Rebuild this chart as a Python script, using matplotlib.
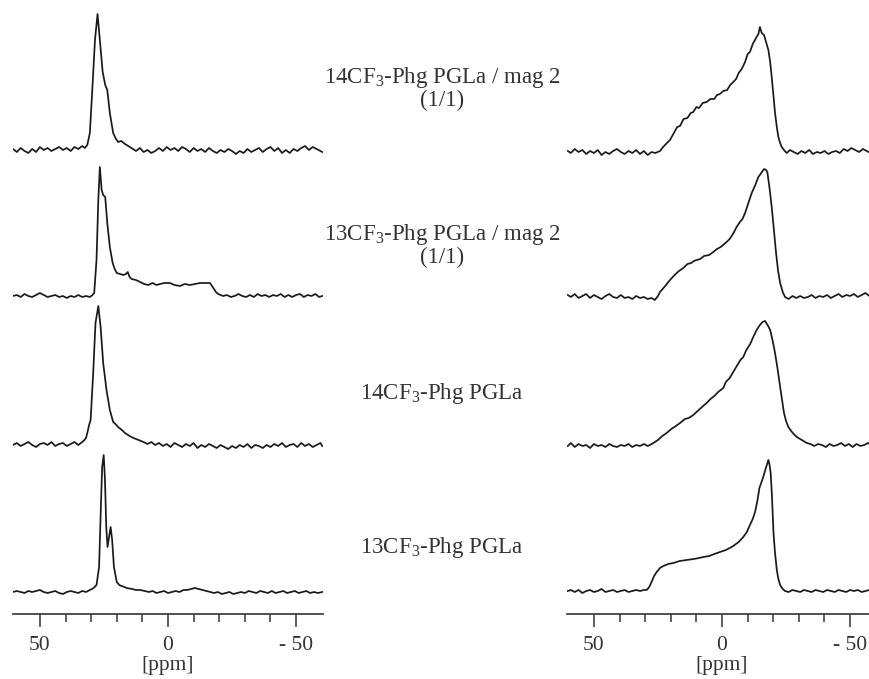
import numpy as np
from matplotlib import rcParams
from matplotlib import pyplot as plt

rcParams['font.family'] = 'Liberation Serif'
rcParams['mathtext.fontset'] = 'custom'
rcParams['mathtext.rm'] = 'Liberation Serif'
rcParams['mathtext.it'] = 'Liberation Serif:italic'

# 19F spectra, (ppm, intensity), intensity in pixel units above baseline
left_14_mag2 = [(60.5, 1), (59, -2), (57.5, 2), (56, -1), (54.5, -3), (53, 1), (51.5, -2), (50, 3), (48.5, 0), (47, 2),
                (45.5, -1), (44, 1), (42.5, 3), (41, 0), (39.5, 2), (38, -1), (36.5, 3), (35, 1), (33.5, 4), (32.5, 2),
                (31.5, 5), (30.5, 17), (29.4, 67), (28.5, 110), (27.5, 136), (26.6, 110), (25.5, 78), (24.5, 65),
                (23.7, 60), (22.7, 37), (21.4, 17), (20.5, 12), (19.5, 8), (18.2, 9), (16.8, 6), (15.5, 4), (13.7, 1),
                (12.5, -1), (11, 2), (9.5, -2), (8, 0), (6.5, -3), (5, -1), (3.5, 2), (2, -1), (0.5, 3), (-1, 0),
                (-2.5, 2), (-4, -1), (-5.5, 3), (-7, 1), (-8.5, -2), (-10, 2), (-11.5, -1), (-13, 1), (-14.5, -2),
                (-16, 2), (-17.5, -1), (-19, -3), (-20.5, 0), (-22, -2), (-23.5, 1), (-25, -1), (-26.5, -4), (-28, -1),
                (-29.5, -3), (-31, 1), (-32.5, -2), (-34, 0), (-35.5, 2), (-37, -2), (-38.5, 1), (-40, 3), (-41.5, -1),
                (-43, 2), (-44.5, -3), (-46, 0), (-47.5, -3), (-49, 1), (-50.5, -1), (-52, 2), (-53.5, 4), (-55, 0),
                (-56.5, 3), (-58, 1), (-59.5, -1), (-60.2, -2)]
left_13_mag2 = [(60.5, 0), (59, 1), (57.5, -1), (56, 2), (54.5, 0), (53, -1), (51.5, 1), (50, 3), (48.5, 1), (47, -1),
                (45.5, 0), (44, 1), (42.5, -1), (41, 0), (39.5, -2), (38, 0), (36.5, -1), (35, 1), (33.5, -1), (32, 0),
                (30.5, -1), (29.5, 1), (28.8, 3), (27.9, 36), (27.2, 96), (26.6, 129), (25.9, 106), (25.3, 101),
                (24.5, 99), (23.7, 73), (22.7, 49), (21.6, 33), (20.8, 27), (20.0, 23), (18.7, 22), (17.4, 21),
                (16.4, 22), (15.7, 24), (15.0, 19), (14.2, 17), (12.5, 16), (10.9, 14), (9.3, 12), (7.7, 11), (6, 13),
                (4.5, 11), (3.1, 12), (1.5, 13), (-0.8, 13), (-2.5, 11), (-4.7, 10), (-6.5, 12), (-8.6, 11),
                (-10.5, 12), (-12.5, 13), (-14.5, 13), (-16.4, 13), (-17.7, 8), (-18.7, 4), (-19.6, 2), (-21.5, 0),
                (-23, 1), (-24.5, -1), (-26, 0), (-27.5, 2), (-29, 0), (-30.5, -1), (-32, 1), (-33.5, -1), (-35, 2),
                (-36.5, 0), (-38, 1), (-39.5, -1), (-41, 1), (-42.5, 0), (-44, 2), (-45.5, -1), (-47, 1), (-48.5, -1),
                (-50, 1), (-51.5, 2), (-53, -1), (-54.5, 1), (-56, 0), (-57.5, 2), (-59, -1), (-60.2, 0)]
left_14 = [(60.5, 0), (59, 2), (57.5, -1), (56, 1), (54.5, 3), (53, 0), (51.5, -2), (50, 1), (48.5, 2), (47, 0),
           (45.5, 3), (44, -1), (42.5, 1), (41, 2), (39.5, -1), (38, 1), (36.5, 3), (35, 0), (34, 2), (33, 4), (32, 7),
           (31.5, 12), (30.8, 20), (30.2, 25), (29.2, 72), (28.3, 122), (27.2, 139), (26.3, 118), (25.3, 82),
           (24.0, 55), (22.7, 35), (21.4, 23), (20.5, 21), (19.5, 18), (18, 15), (16.8, 12), (15, 9), (13.5, 7),
           (11.5, 5), (9.6, 3), (8, 1), (6.5, 3), (5, 0), (3.5, 2), (2, -1), (0.5, 1), (-1, -2), (-2.5, 2), (-4, 0),
           (-5.5, -2), (-7, 1), (-8.5, -1), (-10, 2), (-11.5, -3), (-13, 0), (-14.5, -2), (-16, 1), (-17.5, -1),
           (-19, -3), (-20.5, 0), (-22, -2), (-23.5, -4), (-25, -1), (-26.5, -3), (-28, 0), (-29.5, -2), (-31, 1),
           (-32.5, -3), (-34, 0), (-35.5, -1), (-37, -3), (-38.5, 0), (-40, -2), (-41.5, 1), (-43, -1), (-44.5, 2),
           (-46, -2), (-47.5, 0), (-49, 1), (-50.5, -2), (-52, 2), (-53.5, -1), (-55, 1), (-56.5, -2), (-58, 0),
           (-59.5, 2), (-60.2, -1)]
left_13 = [(60.5, 0), (59, 1), (57.5, 0), (56, -1), (54.5, 1), (53, 0), (51.5, 1), (50, 2), (48.5, 0), (47, -1),
           (45.5, 0), (44, 1), (42.5, -1), (41, -2), (39.5, 0), (38, 1), (36.5, 0), (35, -1), (33.5, 1), (32, 0),
           (30.5, 2), (29, 4), (27.9, 7), (26.9, 25), (26.2, 85), (25.7, 125), (25.1, 137), (24.6, 112), (24.1, 65),
           (23.6, 45), (23.0, 55), (22.4, 65), (21.8, 52), (21.1, 25), (20.0, 10), (19, 7), (18.1, 6), (17, 5),
           (16.1, 4), (14, 3), (12.5, 2), (10.9, 2), (9, 1), (7.5, 0), (6, 1), (4.5, -1), (3, 0), (1.5, 1), (0, -1),
           (-1.5, 0), (-3, 1), (-4.5, 0), (-6, 2), (-7.5, 2), (-9, 3), (-10.5, 4), (-12, 3), (-13.5, 2), (-15, 1),
           (-16.5, 0), (-18, -1), (-19.5, 0), (-21, -2), (-22.5, -1), (-24, 0), (-25.5, -2), (-27, -1), (-28.5, 0),
           (-30, -1), (-31.5, 1), (-33, 0), (-34.5, -1), (-36, 1), (-37.5, 0), (-39, -1), (-40.5, 1), (-42, -1),
           (-43.5, 0), (-45, 1), (-46.5, -1), (-48, 0), (-49.5, 1), (-51, -1), (-52.5, 0), (-54, 1), (-55.5, -1),
           (-57, 0), (-58.5, -1), (-60.2, 0)]

right_14_mag2 = [(60.2, 1), (59, -1), (57.5, 3), (56, 0), (54.5, 2), (53, -2), (51.5, 1), (50, -1), (48.5, 2), (47, -3),
                 (45.5, 0), (44, -2), (42.5, 1), (41, 3), (39.5, 0), (38, -2), (36.5, 1), (35, -1), (33.5, 2), (32, -2),
                 (30.5, 1), (29, -3), (27.5, 0), (26, -1), (24.2, 1), (23, 5), (21.5, 9), (20.3, 12), (19, 18),
                 (17.5, 25), (16.4, 26), (15, 33), (13.5, 34), (12.2, 39), (11.2, 40), (10, 45), (9, 44), (7.5, 49),
                 (6.0, 50), (4.5, 53), (3, 53), (2, 57), (0.8, 58), (-0.5, 61), (-2, 62), (-3.2, 67), (-4.4, 70),
                 (-5.5, 73), (-6.5, 79), (-7.7, 83), (-9, 90), (-10, 98), (-10.9, 100), (-12, 108), (-13.5, 115),
                 (-14.2, 118), (-14.8, 125), (-15.5, 119), (-16.4, 117), (-17.2, 110), (-18.1, 102), (-18.8, 90),
                 (-19.4, 75), (-20.1, 56), (-20.7, 39), (-21.4, 25), (-22.0, 15), (-22.7, 9), (-23.3, 5), (-24.5, 1),
                 (-25.3, -1), (-26.5, 2), (-28, 0), (-29.5, -2), (-31, 1), (-32.5, -1), (-34, 2), (-35.5, -2), (-37, 0),
                 (-38.5, -1), (-40, 1), (-41.5, -2), (-43, 0), (-44.5, 1), (-46, -1), (-47.5, 3), (-49, 1), (-50.5, 4),
                 (-52, 2), (-53.5, 0), (-55, 3), (-56.5, 1), (-58, -1), (-59.5, 2)]
right_13_mag2 = [(60.2, 2), (59, 0), (57.5, 3), (56, -1), (54.5, 1), (53, 3), (51.5, -1), (50, 2), (48.5, 0), (47, -2),
                 (45.5, 1), (44, 3), (42.5, 0), (41, -1), (39.5, 2), (38, -1), (36.5, 0), (35, -2), (33.5, 1), (32, -1),
                 (30.5, 0), (29, -2), (27.5, -1), (26.2, -3), (25, 1), (24.2, 5), (22.5, 10), (20.3, 17), (18.5, 22),
                 (16.8, 26), (15.1, 29), (13.5, 33), (12, 34), (11, 36), (9.9, 37), (8.5, 38), (7, 41), (5, 42),
                 (3.4, 45), (2, 48), (0.5, 50), (-1.8, 55), (-3, 58), (-4.5, 64), (-5.7, 70), (-7, 75), (-8, 78),
                 (-9.0, 84), (-10.3, 94), (-11.6, 104), (-13, 112), (-14.2, 120), (-15.3, 124), (-16.4, 128),
                 (-17.2, 127), (-17.7, 125), (-18.6, 108), (-19.4, 90), (-20.3, 66), (-21.1, 44), (-21.9, 26),
                 (-22.7, 14), (-23.7, 5), (-24.6, 0), (-26, -2), (-27.5, 1), (-29, -1), (-30.5, 1), (-32, -1),
                 (-33.5, 0), (-35, 2), (-36.5, -1), (-38, 1), (-39.5, 0), (-41, 2), (-42.5, -1), (-44, 1), (-45.5, 3),
                 (-47, 0), (-48.5, 2), (-50, 1), (-51.5, 3), (-53, 0), (-54.5, 2), (-56, 4), (-57.5, 1), (-59, 3)]
right_14 = [(60.2, -1), (59, 2), (57.5, -2), (56, 1), (54.5, -1), (53, 0), (51.5, -3), (50, 1), (48.5, -1), (47, 0),
            (45.5, -2), (44, 1), (42.5, -1), (41, -2), (39.5, 0), (38, -1), (36.5, 1), (35, -2), (33.5, 0), (32, -1),
            (30.5, 1), (29, -1), (28.1, 0), (26.8, 2), (25, 5), (23.3, 9), (21.6, 12), (19.8, 16), (18, 19),
            (16.4, 22), (14.5, 26), (13, 27), (11.2, 30), (9.5, 34), (7.8, 38), (6.0, 42), (4.5, 46), (3, 49),
            (1.5, 53), (-0.5, 57), (-1.5, 63), (-3, 67), (-4.4, 73), (-6, 80), (-7.2, 85), (-8.3, 88), (-9.5, 95),
            (-11, 101), (-12.2, 108), (-13.5, 115), (-14.8, 120), (-15.8, 123), (-16.8, 124), (-17.8, 120),
            (-18.8, 115), (-19.8, 104), (-20.7, 92), (-21.7, 76), (-22.7, 58), (-23.5, 44), (-24.2, 32), (-25, 24),
            (-25.9, 18), (-27, 14), (-28, 11), (-29.2, 8), (-30.5, 6), (-31.8, 4), (-33.1, 2), (-34.5, 1), (-36, -1),
            (-37.5, 1), (-39, 0), (-40.5, -2), (-42, 1), (-43.5, -1), (-45, 0), (-46.5, 2), (-48, -1), (-49.5, 1),
            (-51, -2), (-52.5, 1), (-54, -1), (-55.5, 0), (-57, 2), (-58.5, -1), (-60, 1)]
right_13 = [(60.2, 0), (59, 1), (57.5, -1), (56, 1), (54.5, -2), (53, 0), (51.5, 1), (50, -1), (48.5, 0), (47, 2),
            (45.5, -1), (44, 0), (42.5, 1), (41, -1), (39.5, 0), (38, 1), (36.5, -1), (35, 0), (33.5, 1), (32, 0),
            (30.5, 1), (29.4, 1), (28.4, 4), (27.5, 9), (26.5, 15), (25.5, 19), (24.2, 23), (22.9, 25), (21, 27),
            (19.0, 28), (16.5, 30), (13.8, 31), (11, 32), (9, 33), (7.3, 34), (5, 35), (3, 37), (0.8, 39),
            (-1.5, 41), (-3, 43), (-4.4, 45), (-6.5, 49), (-8.3, 54), (-9.7, 59), (-10.9, 66), (-12, 72),
            (-12.9, 79), (-13.8, 90), (-14.6, 103), (-16.1, 114), (-17, 122), (-18.1, 131), (-18.5, 127),
            (-19.0, 118), (-19.5, 95), (-20.1, 58), (-20.7, 38), (-21.4, 21), (-22, 12), (-22.7, 6), (-23.7, 2),
            (-24.6, 0), (-26, -1), (-27.5, 1), (-29, 0), (-30.5, -1), (-32, 1), (-33.5, 0), (-35, -1), (-36.5, 1),
            (-38, 0), (-39.5, -1), (-41, 1), (-42.5, 0), (-44, -1), (-45.5, 1), (-47, 0), (-48.5, -1), (-50, 1),
            (-51.5, 0), (-53, 1), (-54.5, -1), (-56, 0), (-57.5, 1), (-59, 0)]

labels = ['14CF$_3$-Phg PGLa / mag 2\n(1/1)', '13CF$_3$-Phg PGLa / mag 2\n(1/1)',
          '14CF$_3$-Phg PGLa', '13CF$_3$-Phg PGLa']
label_y = [88, 245, 393, 548]  # pixel rows from top

W, H = 870, 679
fig = plt.figure(figsize=(W / 100, H / 100), dpi=100)

axis_row = 614  # pixel row of the ppm axis line
left_ax = fig.add_axes([13 / W, (H - axis_row) / H, 310 / W, axis_row / H])
right_ax = fig.add_axes([567 / W, (H - axis_row) / H, 310 / W, axis_row / H])

panels = [
    (left_ax, [left_14_mag2, left_13_mag2, left_14, left_13], [150, 296, 445, 592]),
    (right_ax, [right_14_mag2, right_13_mag2, right_14, right_13], [152, 297, 445, 591]),
]

for ax, traces, base_rows in panels:
    for trace, row in zip(traces, base_rows):
        ppm, inten = np.array(trace).T
        ax.plot(ppm, axis_row - row + inten, color='#1a1a1a', lw=1.25)
    ax.set_xlim(60.5, -60.5)
    ax.set_ylim(0, axis_row)
    for side in ['top', 'right', 'left']:
        ax.spines[side].set_visible(False)
    ax.spines['bottom'].set_color('#333333')
    ax.spines['bottom'].set_linewidth(1.2)
    ax.set_yticks([])
    ax.set_xticks([50, 0, -50])
    ax.set_xticklabels(['50', '0', '- 50'])
    ax.set_xticks(np.arange(-50, 51, 10), minor=True)
    ax.tick_params(axis='x', which='major', length=9.5, width=1.1, color='#333333',
                   labelsize=15.5, labelcolor='#333333', pad=6)
    ax.tick_params(axis='x', which='minor', length=5.5, width=1.1, color='#333333')
    ax.set_xlabel('[ppm]', fontsize=15.5, color='#333333', labelpad=1)
    ax.patch.set_visible(False)

for text, row in zip(labels, label_y):
    fig.text(442 / W, 1 - row / H, text, ha='center', va='center', fontsize=16.5,
             color='#333333', linespacing=0.95)

plt.savefig('out.png', dpi=100)
